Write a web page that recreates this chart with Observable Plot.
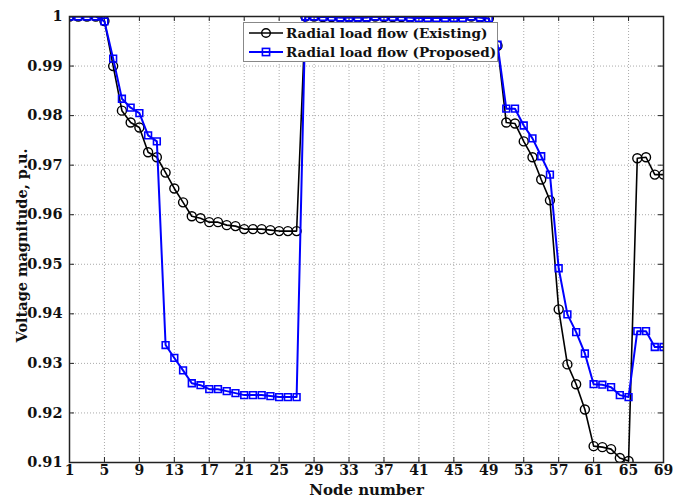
<!DOCTYPE html>
<html>
<head>
<meta charset="utf-8">
<script src="https://cdn.jsdelivr.net/npm/d3@7"></script>
<script src="https://cdn.jsdelivr.net/npm/@observablehq/plot@0.6"></script>
<style>
  html, body { margin: 0; padding: 0; background: #fff; }
  #wrap { position: relative; width: 673px; height: 498px; }
  #legend {
    position: absolute; left: 243px; top: 22px; width: 253px; height: 38px;
    border: 1px solid #888; background: #fff;
    font-family: "DejaVu Serif", serif; font-weight: bold; font-size: 13.6px; color: #111;
    white-space: nowrap; overflow: hidden;
  }
  #legend .row { display: flex; align-items: center; height: 19px; }
  #legend svg { margin-left: 5px; margin-right: 3px; flex: none; }
</style>
</head>
<body>
<div id="wrap"></div>
<script>
const nodes = d3.range(1, 70);
const existing = [
  1.0000, 1.0000, 1.0000, 1.0000, 0.9991, 0.9900, 0.9810, 0.9786, 0.9776, 0.9726,
  0.9716, 0.9685, 0.9653, 0.9625, 0.9597, 0.9593, 0.9585, 0.9585, 0.9579, 0.9577,
  0.9571, 0.9571, 0.9571, 0.9569, 0.9567, 0.9567, 0.9567, 1.0000, 1.0000, 0.9999,
  0.9999, 0.9998, 0.9998, 0.9998, 0.9998, 1.0000, 0.9999, 0.9999, 0.9999, 0.9998,
  0.9997, 0.9997, 0.9997, 0.9997, 0.9997, 0.9997, 1.0000, 0.9998, 0.9996, 0.9941,
  0.9786, 0.9784, 0.9748, 0.9716, 0.9671, 0.9629, 0.9409, 0.9298, 0.9258, 0.9207,
  0.9133, 0.9131, 0.9127, 0.9109, 0.9103, 0.9714, 0.9716, 0.9681, 0.9681
];
const proposed = [
  1.0000, 1.0000, 1.0000, 1.0000, 0.9990, 0.9915, 0.9834, 0.9816, 0.9805, 0.9760,
  0.9748, 0.9337, 0.9311, 0.9286, 0.9260, 0.9256, 0.9248, 0.9248, 0.9244, 0.9240,
  0.9236, 0.9236, 0.9236, 0.9234, 0.9232, 0.9232, 0.9232, 1.0000, 1.0000, 0.9999,
  0.9999, 0.9998, 0.9998, 0.9998, 0.9998, 1.0000, 0.9999, 0.9999, 0.9999, 0.9998,
  0.9997, 0.9997, 0.9997, 0.9997, 0.9997, 0.9997, 1.0000, 0.9998, 0.9996, 0.9943,
  0.9814, 0.9814, 0.9780, 0.9754, 0.9718, 0.9681, 0.9492, 0.9399, 0.9363, 0.9320,
  0.9258, 0.9257, 0.9252, 0.9236, 0.9232, 0.9365, 0.9365, 0.9333, 0.9333
];
const xTicks = d3.range(1, 70, 4);
const yTicks = [0.91, 0.92, 0.93, 0.94, 0.95, 0.96, 0.97, 0.98, 0.99, 1];
const seriesNames = ["Radial load flow (Existing)", "Radial load flow (Proposed)"];

const W = 673, H = 498;
const mL = 69, mR = 10, mT = 16, mB = 36;
const pw = W - mL - mR, ph = H - mT - mB;

const dataE = nodes.map((n, i) => ({node: n, v: existing[i]}));
const dataP = nodes.map((n, i) => ({node: n, v: proposed[i]}));

const chart = Plot.plot({
  width: W, height: H,
  marginLeft: mL, marginRight: mR, marginTop: mT, marginBottom: mB,
  style: {fontFamily: "DejaVu Serif, serif", fontWeight: "bold", fontSize: "14px", color: "#111", background: "#fff"},
  x: {domain: [1, 69]},
  y: {domain: [0.91, 1]},
  marks: [
    Plot.gridX(xTicks, {stroke: "#aaa", strokeOpacity: 1, strokeDasharray: "1,2"}),
    Plot.gridY(yTicks, {stroke: "#aaa", strokeOpacity: 1, strokeDasharray: "1,2"}),
    Plot.axisX(xTicks, {tickSize: 0, tickPadding: 3, label: null, fontSize: 14}),
    Plot.axisY(yTicks, {tickSize: 0, tickPadding: 7, label: null, fontSize: 14.5,
      tickFormat: d => d === 1 ? "1" : d.toFixed(2)}),
    // inward ticks
    Plot.tickX(xTicks, {x: d => d, insetTop: ph - 5, stroke: "#222"}),
    Plot.tickX(xTicks, {x: d => d, insetBottom: ph - 5, stroke: "#222"}),
    Plot.tickY(yTicks, {y: d => d, insetRight: pw - 5, stroke: "#222"}),
    Plot.tickY(yTicks, {y: d => d, insetLeft: pw - 5, stroke: "#222"}),
    Plot.lineY(dataE, {x: "node", y: "v", stroke: "#000", strokeWidth: 1.6, clip: true}),
    Plot.dot(dataE, {x: "node", y: "v", r: 4.5, stroke: "#000", strokeWidth: 1.4, fill: "none", clip: true}),
    Plot.lineY(dataP, {x: "node", y: "v", stroke: "#0000ff", strokeWidth: 2, clip: true}),
    Plot.dot(dataP, {x: "node", y: "v", symbol: "square", r: 3.8, stroke: "#0000ff", strokeWidth: 1.6, fill: "none", clip: true}),
    Plot.frame({stroke: "#222", strokeWidth: 1.5}),
    Plot.text(["Node number"], {frameAnchor: "bottom", lineAnchor: "middle", dy: 28, fontSize: 15, fill: "#111"}),
    Plot.text(["Voltage magnitude, p.u."], {frameAnchor: "left", textAnchor: "middle", lineAnchor: "middle", dx: -47, dy: 6, rotate: -90, fontSize: 14.5, fill: "#111"})
  ]
});

const wrap = document.getElementById("wrap");
wrap.appendChild(chart);

const legend = document.createElement("div");
legend.id = "legend";
legend.innerHTML = `
  <div class="row"><svg width="34" height="12"><line x1="0" y1="6" x2="34" y2="6" stroke="#000" stroke-width="1.6"/><circle cx="17" cy="6" r="4.3" fill="none" stroke="#000" stroke-width="1.4"/></svg><span>${seriesNames[0]}</span></div>
  <div class="row"><svg width="34" height="12"><line x1="0" y1="6" x2="34" y2="6" stroke="#0000ff" stroke-width="2"/><rect x="13.4" y="2.4" width="7.2" height="7.2" fill="none" stroke="#0000ff" stroke-width="1.6"/></svg><span>${seriesNames[1]}</span></div>`;
wrap.appendChild(legend);
</script>
</body>
</html>
